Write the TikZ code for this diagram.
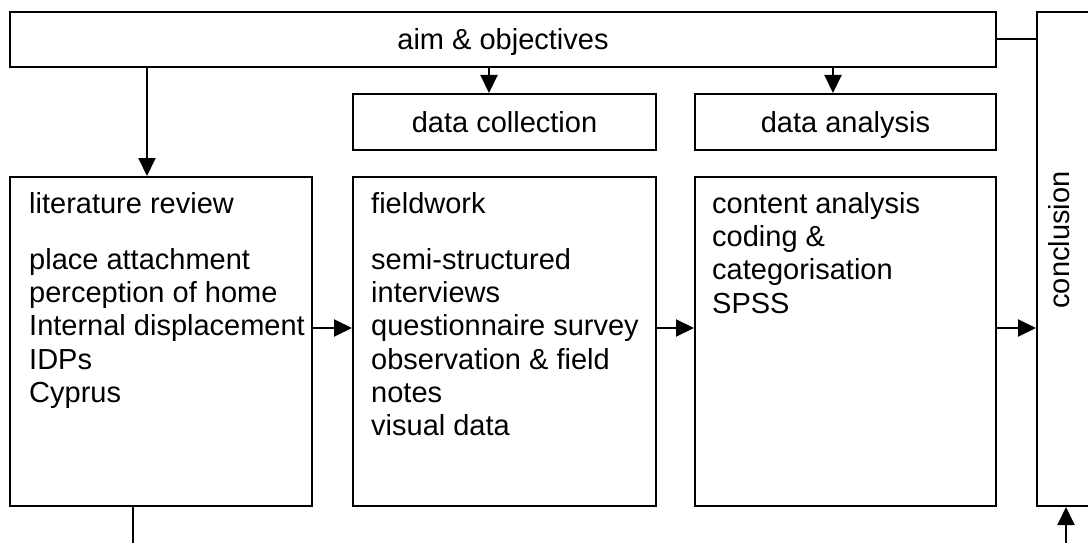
\documentclass[tikz,border=0pt]{standalone}
\usepackage{fontspec}
\setmainfont{Liberation Sans}
\usetikzlibrary{arrows.meta}
\begin{document}
\begin{tikzpicture}[x=1pt,y=-1pt,
  every node/.style={font=\fontsize{29}{33.4}\selectfont},
  box/.style={draw=black,line width=2pt,rectangle,inner sep=0pt,text height=21pt,text depth=0pt},
  line/.style={draw=black,line width=2pt},
  arr/.style={line,-{Triangle[length=18pt,width=17pt]}},
  txt/.style={anchor=base west,inner sep=0pt}]
\useasboundingbox (0,0) rectangle (1088,543);
\clip (0,0) rectangle (1088,543);
% boxes
\node[box,minimum width=986pt,minimum height=55pt] (top) at (503,39.5) {aim \& objectives};
\node[box,minimum width=303pt,minimum height=56pt] (dc) at (504.5,122) {data collection};
\node[box,minimum width=301pt,minimum height=56pt] (da) at (845.5,122) {data analysis};
\node[box,minimum width=302pt,minimum height=329pt] (lit) at (161,341.5) {};
\node[box,minimum width=303pt,minimum height=329pt] (fw) at (504.5,341.5) {};
\node[box,minimum width=301pt,minimum height=329pt] (ca) at (845.5,341.5) {};
\node[box,minimum width=80pt,minimum height=494pt] (concl) at (1077,259) {};
% texts
\node[txt] (litT) at (29,213) {\parbox[t]{290pt}{\raggedright literature review\\[22.6pt]place attachment\\perception of home\\Internal displacement\\IDPs\\Cyprus}};
\node[txt] (fwT) at (371,213) {\parbox[t]{290pt}{\raggedright fieldwork\\[22.6pt]semi-structured\\interviews\\questionnaire survey\\observation \& field\\notes\\visual data}};
\node[txt] (caT) at (712,213) {\parbox[t]{280pt}{\raggedright content analysis\\coding \&\\categorisation\\SPSS}};
\node[anchor=base,inner sep=0pt,rotate=90] (conclT) at (1069,240) {conclusion};
% helper coordinates
\coordinate (a1) at (147,0);
\coordinate (a2) at (489,0);
\coordinate (a3) at (833,0);
\coordinate (h) at (0,328);
\coordinate (b1) at (133,543);
\coordinate (b2) at (1066,543);
% connectors
\draw[line] (top.east) -- (concl.west |- top.east);
\draw[arr] (top.south -| a1) -- (lit.north -| a1);
\draw[arr] (top.south -| a2) -- (dc.north -| a2);
\draw[arr] (top.south -| a3) -- (da.north -| a3);
\draw[arr] (lit.east |- h) -- (fw.west |- h);
\draw[arr] (fw.east |- h) -- (ca.west |- h);
\draw[arr] (ca.east |- h) -- (concl.west |- h);
\draw[line] (lit.south -| b1) -- (b1);
\draw[arr] (b2) -- (concl.south -| b2);
\end{tikzpicture}
\end{document}
